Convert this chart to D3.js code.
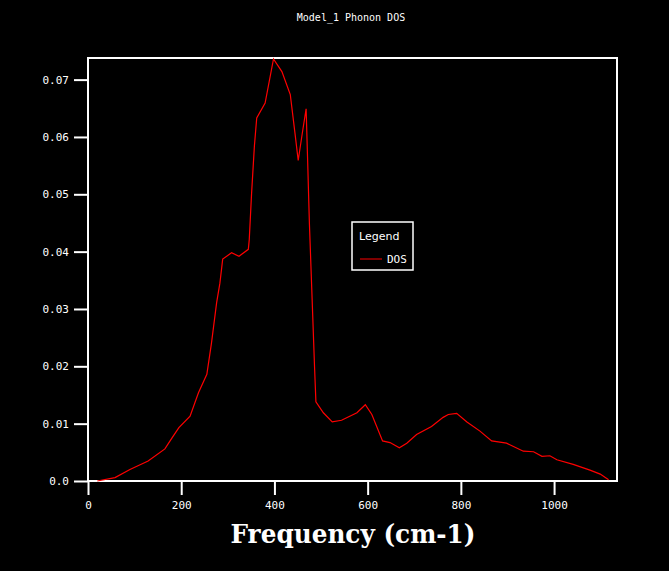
<!DOCTYPE html>
<html>
<head>
<meta charset="utf-8">
<script src="https://cdn.jsdelivr.net/npm/d3@7"></script>
<style>
  html, body { margin: 0; padding: 0; background: #000; }
  svg { display: block; }
  .tick text { font-family: "DejaVu Sans Mono", monospace; font-size: 11px; fill: #fff; }
</style>
</head>
<body>
<div id="chart"></div>
<script>
// frequency values (cm-1)
var freq = [20, 58, 90, 129, 165, 181, 195, 219, 237, 255, 265, 276, 283, 289, 308, 324,
  344, 346, 351, 357, 362, 380, 398, 416, 434, 444, 451, 461, 468, 471, 475, 480, 486,
  489, 505, 524, 544, 577, 595, 609, 632, 648, 668, 684, 705, 737, 762, 773, 791, 813,
  841, 866, 898, 934, 956, 974, 991, 1006, 1041, 1077, 1099, 1117];
// density of states
var dos = [0.0000, 0.0006, 0.0020, 0.0035, 0.0056, 0.0076, 0.0093, 0.0113, 0.0154, 0.0186,
  0.0241, 0.0311, 0.0345, 0.0387, 0.0398, 0.0392, 0.0404, 0.0421, 0.0502, 0.0584, 0.0633,
  0.0659, 0.0736, 0.0714, 0.0674, 0.0607, 0.0559, 0.0613, 0.0649, 0.0566, 0.0450, 0.0337,
  0.0200, 0.0138, 0.0119, 0.0103, 0.0106, 0.0119, 0.0133, 0.0116, 0.0070, 0.0067, 0.0058,
  0.0066, 0.0081, 0.0095, 0.0111, 0.0116, 0.0118, 0.0103, 0.0087, 0.0070, 0.0066, 0.0052,
  0.0051, 0.0043, 0.0044, 0.0037, 0.0029, 0.0019, 0.0012, 0.0002];

var xTicks = [0, 200, 400, 600, 800, 1000];
var yTicks = [0, 0.01, 0.02, 0.03, 0.04, 0.05, 0.06, 0.07];

var svgWidth = 669;
var svgHeight = 571;
var margin = {top: 58, right: 52, bottom: 90, left: 88};
var width = svgWidth - margin.left - margin.right;
var height = svgHeight - margin.top - margin.bottom;

var svg = d3.select('#chart')
  .append('svg')
  .attr('width', svgWidth)
  .attr('height', svgHeight)
  .style('background', '#000');

var chart = svg.append('g')
  .attr('transform', `translate(${margin.left}, ${margin.top})`);

var x = d3.scaleLinear().domain([0, 1135]).range([0, width]);
var y = d3.scaleLinear().domain([0, 0.07377]).range([height, 0]);

// title
svg.append('text')
  .attr('x', 351)
  .attr('y', 21)
  .attr('text-anchor', 'middle')
  .attr('font-family', 'DejaVu Sans Mono, monospace')
  .attr('font-size', 10)
  .attr('fill', '#fff')
  .text('Model_1 Phonon DOS');

// frame
chart.append('rect')
  .attr('width', width)
  .attr('height', height)
  .attr('fill', 'none')
  .attr('stroke', '#fff')
  .attr('stroke-width', 2);

// axes
var xAxis = chart.append('g')
  .attr('transform', `translate(0, ${height})`)
  .call(d3.axisBottom(x).tickValues(xTicks).tickSize(14).tickPadding(6).tickFormat(d3.format('d')));

var yAxis = chart.append('g')
  .call(d3.axisLeft(y).tickValues(yTicks).tickSize(14).tickPadding(5)
    .tickFormat(d => d === 0 ? '0.0' : d3.format('.2f')(d)));

chart.selectAll('.domain').remove();
chart.selectAll('.tick line').attr('stroke', '#fff').attr('stroke-width', 2);

// the DOS curve
var line = d3.line()
  .x((d, i) => x(freq[i]))
  .y(d => y(d));

chart.append('path')
  .attr('d', line(dos))
  .attr('fill', 'none')
  .attr('stroke', '#ff0000')
  .attr('stroke-width', 1.2);

// x label
svg.append('text')
  .attr('x', 353)
  .attr('y', 543)
  .attr('text-anchor', 'middle')
  .attr('font-family', 'DejaVu Serif, serif')
  .attr('font-weight', 'bold')
  .attr('font-size', 26)
  .attr('textLength', 245)
  .attr('lengthAdjust', 'spacingAndGlyphs')
  .attr('fill', '#fff')
  .text('Frequency (cm-1)');

// legend
var legend = svg.append('g').attr('transform', 'translate(352, 222)');
legend.append('rect')
  .attr('width', 61)
  .attr('height', 48)
  .attr('fill', '#000')
  .attr('stroke', '#fff')
  .attr('stroke-width', 1.5);
legend.append('text')
  .attr('x', 7)
  .attr('y', 18)
  .attr('font-family', 'DejaVu Sans, sans-serif')
  .attr('font-size', 11)
  .attr('fill', '#fff')
  .text('Legend');
legend.append('line')
  .attr('x1', 8).attr('x2', 30)
  .attr('y1', 37).attr('y2', 37)
  .attr('stroke', '#ff0000')
  .attr('stroke-width', 1);
legend.append('text')
  .attr('x', 35)
  .attr('y', 41)
  .attr('font-family', 'DejaVu Sans Mono, monospace')
  .attr('font-size', 11)
  .attr('fill', '#fff')
  .text('DOS');
</script>
</body>
</html>
